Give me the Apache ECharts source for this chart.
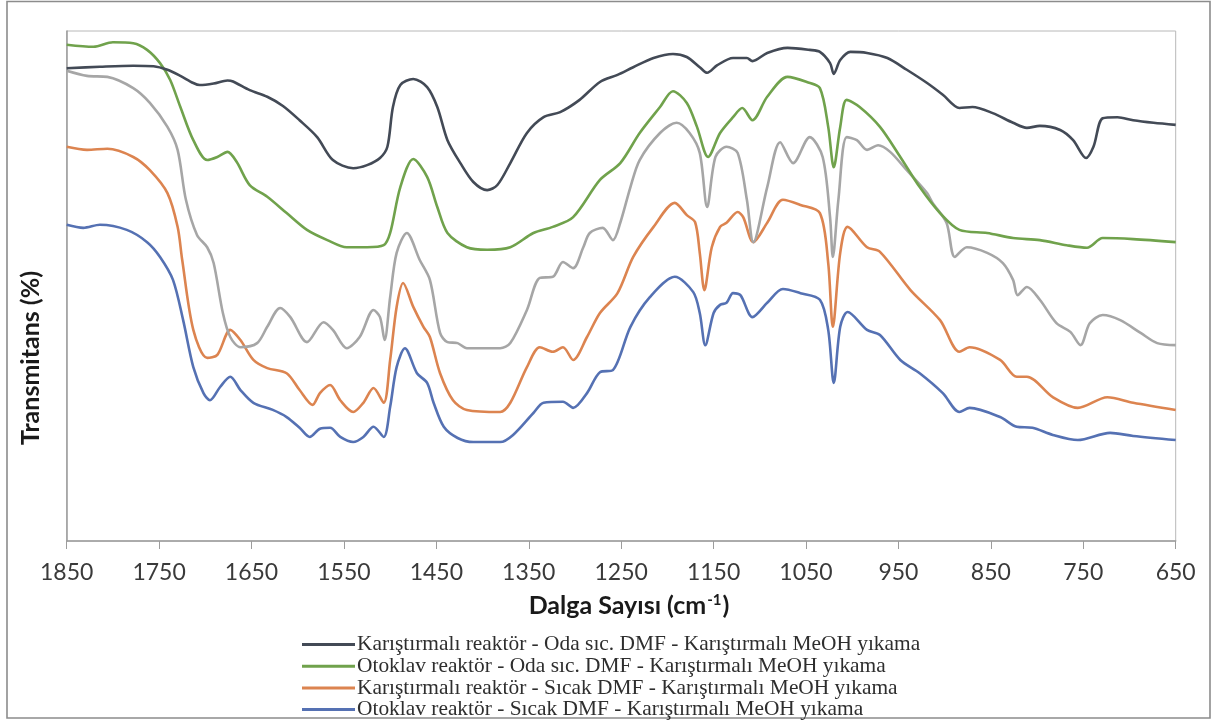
<!DOCTYPE html>
<html>
<head>
<meta charset="utf-8">
<script src="https://cdn.jsdelivr.net/npm/echarts@6/dist/echarts.min.js"></script>
<style>
  html, body { margin: 0; padding: 0; background: #ffffff; }
  #chart { width: 1213px; height: 722px; }
</style>
</head>
<body>
<div id="chart"></div>
<script>
// FTIR transmittance spectra, wavenumber (cm-1) vs. relative transmittance (%)

const seriesNames = [
  'Karıştırmalı reaktör - Oda sıc. DMF - Karıştırmalı MeOH yıkama',
  'Otoklav reaktör - Oda sıc. DMF - Karıştırmalı MeOH yıkama',
  'Karıştırmalı reaktör - Sıcak DMF - Karıştırmalı MeOH yıkama',
  'Otoklav reaktör - Sıcak DMF - Karıştırmalı MeOH yıkama'
];
const extraName = 'Ek numune';

const xTicks = [650, 750, 850, 950, 1050, 1150, 1250, 1350, 1450, 1550, 1650, 1750, 1850];

// Karıştırmalı reaktör - Oda sıc. DMF
const darkWn = [1850,1814,1778,1756,1741,1727,1713,1706,1691,1676,1670,1652,1633,1616,1598,1579,1562,1540,1525,1511,1503,1497,1489,1475,1460,1449,1438,1424,1410,1395,1384,1370,1352,1334,1316,1295,1273,1254,1237,1215,1194,1179,1165,1157,1146,1129,1114,1108,1092,1070,1046,1035,1024,1020,1013,1002,984,962,941,919,902,884,870,848,826,811,797,775,761,747,739,729,713,696,674,650];
const darkT  = [92.7,93.0,93.2,93.1,92.4,91.2,89.8,89.4,89.7,90.3,90.1,88.4,87.1,85.3,82.5,79.2,74.7,73.1,73.7,75.1,77.3,85.1,89.4,90.6,89.0,85.1,78.6,74.1,70.4,68.8,69.8,74.1,80.0,83.1,84.1,86.5,90.0,91.4,92.9,94.7,95.5,94.9,92.9,91.8,93.3,94.7,94.7,94.1,95.7,96.7,96.3,95.9,93.7,91.6,94.3,95.9,95.7,94.7,92.4,89.8,87.5,84.9,85.1,83.9,82.0,81.0,81.4,80.6,78.6,75.1,77.3,82.9,83.1,82.5,82.0,81.6];

// Otoklav reaktör - Oda sıc. DMF
const greenWn = [1850,1821,1800,1778,1763,1749,1738,1727,1713,1698,1687,1676,1666,1652,1633,1612,1590,1568,1547,1525,1507,1500,1489,1475,1460,1449,1438,1417,1395,1370,1345,1324,1302,1273,1251,1230,1208,1194,1179,1168,1156,1143,1129,1119,1108,1092,1070,1049,1035,1026,1020,1013,1006,992,970,948,927,905,884,854,826,797,768,746,729,696,650];
const greenT  = [97.3,96.9,97.8,97.6,96.3,93.7,90.4,85.1,78.6,74.7,75.3,76.3,74.3,69.8,67.5,64.3,61.0,59.0,57.6,57.6,58.0,60.4,69.4,74.9,71.4,65.5,60.4,57.6,57.1,57.6,60.4,61.6,63.5,70.8,74.1,80.0,85.1,88.2,85.9,81.2,75.3,80.0,83.1,84.9,82.5,87.1,91.0,90.0,88.8,81.2,73.3,81.2,86.5,85.1,81.2,75.3,69.4,64.3,61.0,60.4,59.4,59.0,58.0,57.5,59.4,59.2,58.6];

// Ek numune (gri)
const grayWn = [1850,1828,1806,1778,1760,1741,1730,1721,1709,1698,1691,1681,1673,1662,1644,1633,1619,1608,1590,1572,1562,1547,1533,1518,1511,1506,1500,1493,1482,1468,1457,1446,1438,1427,1417,1381,1370,1352,1338,1324,1313,1302,1291,1284,1270,1259,1251,1240,1230,1208,1190,1176,1165,1157,1148,1136,1124,1114,1107,1092,1078,1064,1046,1032,1024,1021,1015,1006,995,984,972,959,941,919,913,898,889,876,854,837,826,821,811,797,779,764,753,743,729,710,688,670,650];
const grayT  = [92.2,91.2,91.0,88.8,85.9,81.2,76.7,66.9,60.0,57.6,54.5,44.7,40.0,38.0,38.8,42.0,45.7,43.9,39.0,42.9,41.4,37.8,40.0,45.3,43.9,39.4,47.8,56.5,60.4,55.1,51.2,40.8,39.0,38.8,37.8,37.8,38.8,45.3,51.6,51.8,54.7,53.5,57.6,60.4,61.4,59.0,62.4,69.4,74.7,80.0,82.0,80.0,76.1,65.5,75.3,77.3,76.1,66.9,58.6,69.4,78.2,74.1,79.2,75.3,63.5,55.7,66.9,79.2,78.6,76.7,77.6,76.3,72.7,68.2,66.3,62.4,55.7,57.6,56.5,54.5,51.2,48.2,49.8,47.3,42.7,41.0,38.4,42.7,44.3,43.3,40.8,38.8,38.4];

// Karıştırmalı reaktör - Sıcak DMF
const orangeWn = [1850,1828,1806,1778,1760,1741,1730,1725,1713,1698,1687,1673,1662,1648,1633,1612,1598,1584,1576,1565,1554,1540,1529,1518,1507,1500,1493,1486,1475,1464,1457,1446,1432,1417,1381,1370,1352,1338,1324,1313,1302,1287,1273,1254,1237,1215,1192,1179,1170,1165,1160,1152,1143,1136,1124,1118,1107,1092,1075,1056,1035,1026,1021,1013,1005,984,970,937,905,884,873,840,822,811,783,756,724,696,650];
const orangeT  = [77.3,76.7,76.9,75.3,72.7,68.2,61.6,55.1,41.4,35.9,36.5,41.4,39.4,35.5,33.9,32.9,29.6,26.7,29.0,30.6,27.6,25.3,27.1,30.0,27.1,35.5,45.9,50.6,45.9,42.0,40.0,32.9,27.6,25.7,25.3,27.1,34.1,38.0,37.1,38.0,35.5,40.0,44.7,48.6,55.7,61.6,66.3,63.9,62.5,56.5,49.2,57.6,61.6,62.4,64.5,63.5,58.6,62.4,66.9,65.9,64.3,54.5,42.0,56.5,61.6,57.6,56.7,49.2,43.3,37.1,38.0,35.5,32.2,32.2,28.2,26.1,28.2,27.1,25.7];

// Otoklav reaktör - Sıcak DMF
const blueWn = [1850,1832,1814,1785,1763,1749,1735,1724,1713,1702,1695,1684,1673,1662,1648,1627,1612,1598,1587,1576,1565,1554,1540,1529,1518,1507,1500,1493,1484,1471,1460,1453,1442,1427,1410,1381,1367,1345,1334,1313,1302,1287,1273,1259,1240,1219,1192,1172,1165,1159,1150,1143,1136,1129,1121,1108,1092,1075,1056,1035,1026,1020,1013,1005,984,970,948,927,902,884,873,840,822,805,783,756,721,696,650];
const blueT  = [62.0,61.4,62.0,61.0,58.6,55.7,51.2,43.3,34.1,29.0,27.6,30.2,32.2,29.6,27.1,25.7,24.3,22.2,20.4,22.0,22.2,20.4,19.4,20.4,22.4,20.4,26.3,34.1,37.8,32.9,31.0,27.1,22.4,20.2,19.4,19.4,20.8,25.1,27.1,27.3,26.1,29.0,33.1,33.5,42.0,47.8,51.8,48.8,44.7,38.4,44.7,46.3,46.7,48.6,48.2,43.9,46.7,49.4,48.6,47.3,41.4,31.0,42.0,44.9,41.4,40.4,35.5,32.9,29.0,25.3,26.1,24.3,22.4,22.2,20.8,19.8,21.2,20.6,19.8];

const colors = {
  dark: '#434a56',
  green: '#70a24c',
  gray: '#a6a6a6',
  orange: '#dc8450',
  blue: '#5571b3'
};

function pairs(wn, t) {
  return wn.map((w, i) => [w, t[i]]);
}

function lineSeries(name, wn, t, color, z) {
  return {
    name: name,
    type: 'line',
    data: pairs(wn, t),
    symbol: 'none',
    smooth: 0.3,
    z: z,
    lineStyle: { color: color, width: 2.6 },
    itemStyle: { color: color },
    emphasis: { disabled: true },
    animation: false
  };
}

const chart = echarts.init(document.getElementById('chart'), null, { renderer: 'canvas' });

chart.setOption({
  backgroundColor: '#ffffff',
  animation: false,
  grid: {
    left: 66.7, right: 37.3, top: 31, bottom: 181,
    show: true,
    borderColor: '#b8b8b8',
    borderWidth: 1,
    backgroundColor: 'transparent'
  },
  xAxis: {
    type: 'value',
    min: 650, max: 1850,
    inverse: true,
    axisLine: { show: true, lineStyle: { color: '#9c9c9c', width: 1.5 } },
    axisTick: { show: true, length: 8, customValues: xTicks, lineStyle: { color: '#9c9c9c', width: 1 } },
    axisLabel: {
      customValues: xTicks,
      formatter: (v) => String(v),
      margin: 20,
      fontFamily: 'Lato',
      fontSize: 23,
      color: '#3a3a3a'
    },
    splitLine: { show: false }
  },
  yAxis: {
    type: 'value',
    min: 0, max: 100,
    axisLine: { show: true, onZero: false, lineStyle: { color: '#9c9c9c', width: 1.5 } },
    axisTick: { show: false },
    axisLabel: { show: false },
    splitLine: { show: false }
  },
  legend: {
    orient: 'vertical',
    left: 302,
    top: 634,
    padding: 0,
    itemGap: 0.7,
    itemWidth: 53,
    itemHeight: 3,
    icon: 'rect',
    data: seriesNames,
    textStyle: {
      fontFamily: 'Liberation Serif',
      fontSize: 21.4,
      lineHeight: 20,
      color: '#2e2e2e',
      padding: [0, 0, 0, -3]
    }
  },
  graphic: [
    {
      type: 'rect',
      silent: true,
      shape: { x: 7, y: 1.5, width: 1203, height: 716.5 },
      style: { fill: 'none', stroke: '#8c8c8c', lineWidth: 1.6 }
    },
    {
      type: 'text',
      silent: true,
      x: 629, y: 606,
      style: {
        text: '{a|Dalga Sayısı (cm}{s|-1}{a|)}',
        align: 'center',
        verticalAlign: 'middle',
        rich: {
          a: { fontFamily: 'Lato', fontWeight: 'bold', fontSize: 25, fill: '#1a1a1a' },
          s: { fontFamily: 'Lato', fontWeight: 'bold', fontSize: 15, fill: '#1a1a1a', padding: [0, 1, 12, 1] }
        }
      }
    },
    {
      type: 'text',
      silent: true,
      x: 31, y: 358,
      rotation: Math.PI / 2,
      style: {
        text: 'Transmitans (%)',
        align: 'center',
        verticalAlign: 'middle',
        fontFamily: 'Lato',
        fontWeight: 'bold',
        fontSize: 25,
        fill: '#1a1a1a'
      }
    }
  ],
  series: [
    lineSeries(seriesNames[0], darkWn, darkT, colors.dark, 5),
    lineSeries(seriesNames[1], greenWn, greenT, colors.green, 4),
    lineSeries(extraName, grayWn, grayT, colors.gray, 3),
    lineSeries(seriesNames[2], orangeWn, orangeT, colors.orange, 2),
    lineSeries(seriesNames[3], blueWn, blueT, colors.blue, 1)
  ]
});
</script>
</body>
</html>
